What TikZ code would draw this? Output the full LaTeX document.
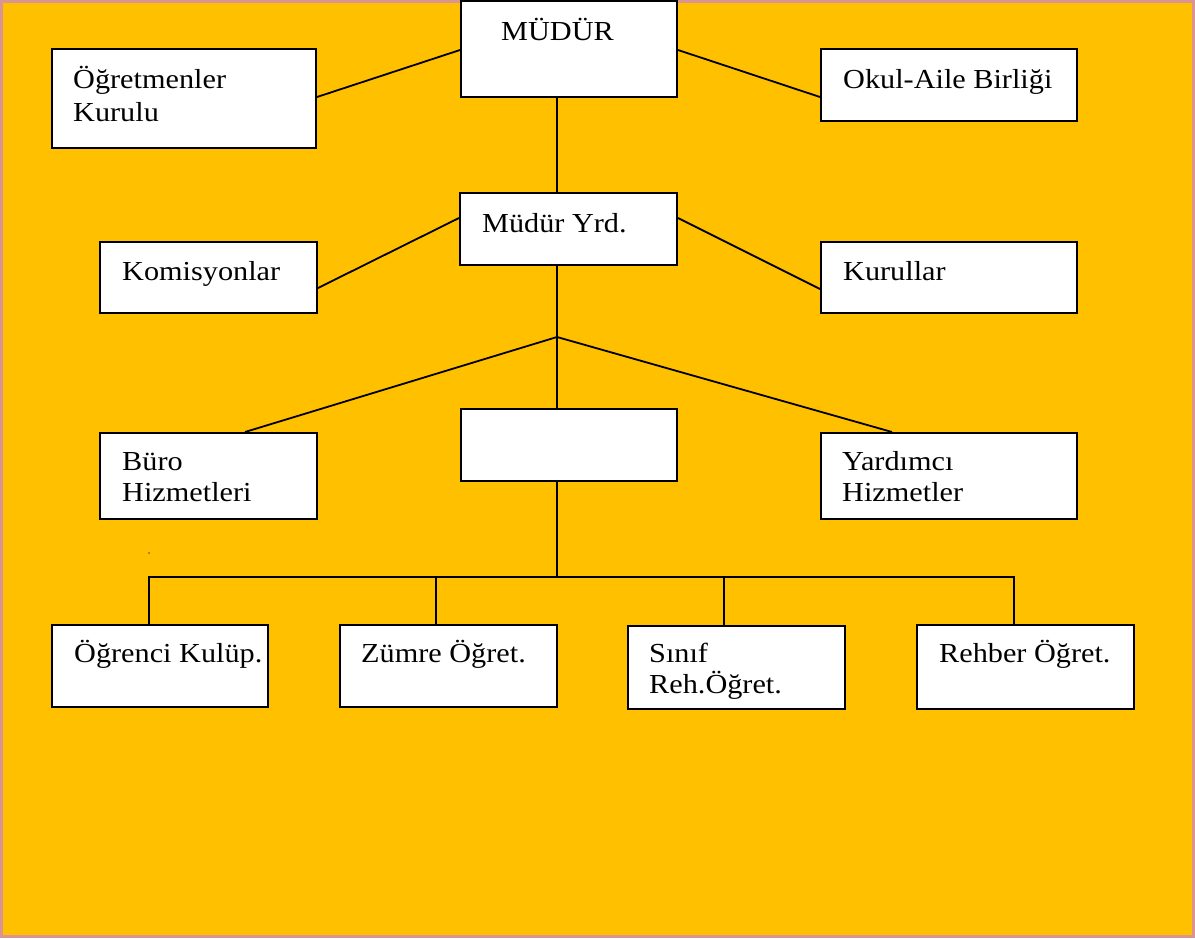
\documentclass[tikz,border=0pt]{standalone}
\usepackage{fontspec}
\setmainfont{Liberation Serif}[FakeStretch=1.1]
\usetikzlibrary{calc}
\definecolor{bgorange}{HTML}{FFC000}
\definecolor{rimpink}{HTML}{D99594}
\tikzset{
  orgbox/.style={draw=black, line width=2pt, fill=white, inner sep=0pt, minimum width=#1},
  conn/.style={draw=black, line width=1.8pt},
  lbl/.style={anchor=base west, inner sep=0pt, font=\fontsize{27.5}{31}\selectfont}
}
\begin{document}
\begin{tikzpicture}[x=1pt, y=-1pt]
\useasboundingbox (0,0) rectangle (1195,938);
\fill[bgorange] (0,0) rectangle (1195,938);
\draw[rimpink, line width=3pt] (1.5,1.5) rectangle (1193.5,936.5);
\newcommand{\obox}[5]{\node[orgbox={#4-#2}, minimum height={#5-#3}] (#1) at ({(#2+#4)/2},{(#3+#5)/2}) {};}
\coordinate (jn) at (557,337);
\coordinate (busc) at (557,577);
\coordinate (d1) at (148.6,577);
\coordinate (d2) at (436,577);
\coordinate (d3) at (724,577);
\coordinate (d4) at (1014,577);
% boxes
\obox{mudur}{461}{1}{677}{97}
\obox{ogr}{52}{49}{316}{148}
\obox{okul}{821}{49}{1077}{121}
\obox{yrd}{460}{193}{677}{265}
\obox{kom}{100}{242}{317}{313}
\obox{kur}{821}{242}{1077}{313}
\obox{empty}{461}{409}{677}{481}
\obox{buro}{100}{433}{317}{519}
\obox{yard}{821}{433}{1077}{519}
\obox{ogrk}{52}{625}{268}{707}
\obox{zumre}{340}{625}{557}{707}
\obox{sinif}{628}{626}{845}{709}
\obox{rehber}{917}{625}{1134}{709}
% texts
\node[lbl] (tmudur) at (501,40) {MÜDÜR};
\node[lbl] (togr1) at (73,88) {Öğretmenler};
\node[lbl] (togr2) at (73,121) {Kurulu};
\node[lbl] (tokul) at (843,88) {Okul-Aile Birliği};
\node[lbl] (tyrd) at (482,232) {Müdür Yrd.};
\node[lbl] (tkom) at (122,280) {Komisyonlar};
\node[lbl] (tkur) at (843,280) {Kurullar};
\node[lbl] (tburo1) at (122,470) {Büro};
\node[lbl] (tburo2) at (122,501) {Hizmetleri};
\node[lbl] (tyard1) at (842,470) {Yardımcı};
\node[lbl] (tyard2) at (842,501) {Hizmetler};
\node[lbl] (togrk) at (74,662) {Öğrenci Kulüp.};
\node[lbl] (tzumre) at (361,662) {Zümre Öğret.};
\node[lbl] (tsinif1) at (649,662) {Sınıf};
\node[lbl] (tsinif2) at (649,693) {Reh.Öğret.};
\node[lbl] (trehber) at (939,662) {Rehber Öğret.};
% connectors
\draw[conn] ($(ogr.east)+(0,-1.5)$) -- ($(mudur.west)+(0,1)$);
\draw[conn] ($(mudur.east)+(0,1)$) -- ($(okul.west)+(0,12)$);
\draw[conn] ($(mudur.south)+(-12,0)$) -- ($(yrd.north)+(-11.5,0)$);
\draw[conn] ($(kom.east)+(0,10.5)$) -- ($(yrd.west)+(0,-11)$);
\draw[conn] ($(yrd.east)+(0,-11)$) -- ($(kur.west)+(0,11.5)$);
\draw[conn] ($(yrd.south)+(-11.5,0)$) -- (jn) -- ($(empty.north)+(-12,0)$);
\draw[conn, line join=round] ($(buro.north)+(36.5,0)$) -- (jn) -- ($(yard.north)+(-57,0)$);
\draw[conn] ($(empty.south)+(-12,0)$) -- (busc);
\draw[conn, line cap=rect] (d1) -- (d4);
\draw[conn] (d1) -- (d1 |- ogrk.north);
\draw[conn] (d2) -- (d2 |- zumre.north);
\draw[conn] (d3) -- (d3 |- sinif.north);
\draw[conn] (d4) -- (d4 |- rehber.north);
\fill[black!70] (149,553) circle (0.8);
\end{tikzpicture}
\end{document}
